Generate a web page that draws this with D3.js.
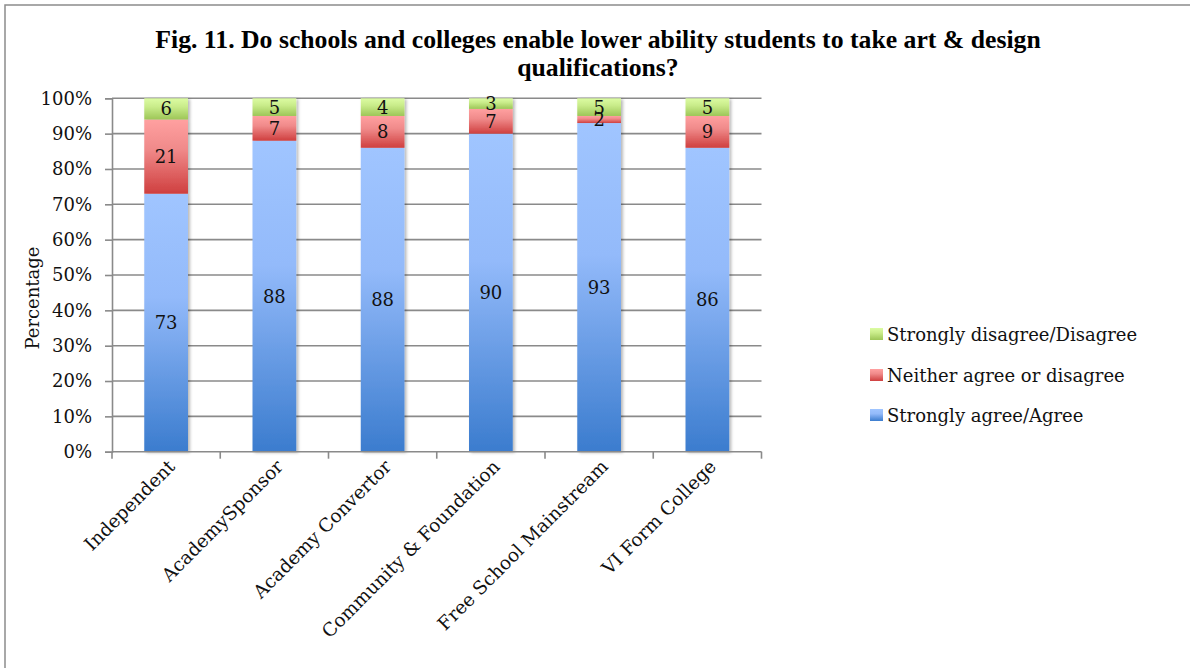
<!DOCTYPE html>
<html><head><meta charset="utf-8">
<script src="https://cdn.jsdelivr.net/npm/d3@7"></script>
<style>html,body{margin:0;padding:0;background:#fff;} svg{display:block;}</style>
</head><body>
<svg id="chart" width="1190" height="668"></svg>
<script>
// ---------- data ----------
const categories = ["Independent", "AcademySponsor", "Academy Convertor", "Community & Foundation", "Free School Mainstream", "VI Form College"];
const seriesNames = ["Strongly agree/Agree", "Neither agree or disagree", "Strongly disagree/Disagree"];
const agree    = [73, 88, 86, 90, 93, 86];
const neither  = [21, 7, 9, 7, 2, 9];
const disagree = [6, 5, 5, 3, 5, 5];
const agreeLabels    = ["73", "88", "88", "90", "93", "86"];
const neitherLabels  = ["21", "7", "8", "7", "2", "9"];
const disagreeLabels = ["6", "5", "4", "3", "5", "5"];
const yTicks = [0, 10, 20, 30, 40, 50, 60, 70, 80, 90, 100];
const titleLines = ["Fig. 11. Do schools and colleges enable lower ability students to take art & design", "qualifications?"];
const yTitle = "Percentage";

// ---------- setup ----------
const FONT = "'DejaVu Serif', 'Liberation Serif', serif";
const TFONT = "'Liberation Serif', 'DejaVu Serif', serif";
const svg = d3.select("#chart");
const W = 1190, H = 668;
svg.append("rect").attr("width", W).attr("height", H).attr("fill", "#fff");
svg.append("rect").attr("x", 5).attr("y", 5).attr("width", 1300).attr("height", 800)
  .attr("fill", "none").attr("stroke", "#8c8c8c").attr("stroke-width", 1.5);

const plot = {left: 112, right: 761.5, top: 98.3, bottom: 451.7};
const x = d3.scaleBand().domain(categories).range([plot.left, plot.right])
  .paddingInner(0.596).paddingOuter(0.298);
const y = d3.scaleLinear().domain([0, 100]).range([plot.bottom, plot.top]);

const colors = {
  agree:    ["#a0c5ff", "#93bafa", "#3b7cce"],
  neither:  ["#ffa0a0", "#f08a8a", "#cf3f3f"],
  disagree: ["#dcfca3", "#c9ec8a", "#9dc657"]
};
const defs = svg.append("defs");
Object.entries(colors).forEach(([k, c]) => {
  const g = defs.append("linearGradient").attr("id", "g-" + k)
    .attr("x1", 0).attr("y1", 0).attr("x2", 0).attr("y2", 1);
  g.append("stop").attr("offset", "0%").attr("stop-color", c[0]);
  g.append("stop").attr("offset", "40%").attr("stop-color", c[1]);
  g.append("stop").attr("offset", "100%").attr("stop-color", c[2]);
});
const f = defs.append("filter").attr("id", "shadow").attr("x", "-20%").attr("y", "-5%").attr("width", "150%").attr("height", "110%");
f.append("feDropShadow").attr("dx", 2).attr("dy", 1).attr("stdDeviation", 1.6)
  .attr("flood-color", "#000").attr("flood-opacity", 0.28);

// ---------- title ----------
const title = svg.append("text").attr("font-family", TFONT).attr("font-weight", "bold")
  .attr("font-size", 20).attr("text-anchor", "middle").attr("fill", "#000");
title.selectAll("tspan").data(titleLines).join("tspan")
  .attr("x", 598).attr("y", (d, i) => 48 + i * 28).text(d => d);
const w0 = title.select("tspan").node().getComputedTextLength();
title.attr("font-size", 20 * 886 / w0);

// ---------- gridlines ----------
svg.append("g").selectAll("line").data(yTicks.filter(d => d > 0)).join("line")
  .attr("x1", plot.left).attr("x2", plot.right)
  .attr("y1", d => y(d)).attr("y2", d => y(d))
  .attr("stroke", "#8a8a8a").attr("stroke-width", 1.6);

// ---------- y axis ----------
const yAxis = svg.append("g").attr("transform", `translate(${plot.left},0)`)
  .call(d3.axisLeft(y).tickValues(yTicks).tickFormat(d => d + "%").tickSize(7).tickPadding(13));
yAxis.select(".domain").attr("stroke", "#8a8a8a").attr("stroke-width", 1.6);
yAxis.selectAll(".tick line").attr("stroke", "#8a8a8a").attr("stroke-width", 1.6);
yAxis.selectAll(".tick text").attr("font-family", FONT).attr("font-size", 18).attr("fill", "#111");

svg.append("text").attr("transform", `translate(32,298) rotate(-90)`)
  .attr("text-anchor", "middle").attr("dominant-baseline", "central")
  .attr("font-family", FONT).attr("font-size", 18).attr("fill", "#111").text(yTitle);

// ---------- bars ----------
const rows = categories.map((c, i) => ({cat: c, agree: agree[i], neither: neither[i], disagree: disagree[i], i}));
const keys = ["agree", "neither", "disagree"];
const labelArrays = {agree: agreeLabels, neither: neitherLabels, disagree: disagreeLabels};
const stacked = d3.stack().keys(keys)(rows);

const barsLayer = svg.append("g").attr("filter", "url(#shadow)");
stacked.forEach(layer => {
  barsLayer.append("g").selectAll("rect").data(layer).join("rect")
    .attr("x", d => x(d.data.cat)).attr("width", x.bandwidth())
    .attr("y", d => y(d[1])).attr("height", d => y(d[0]) - y(d[1]))
    .attr("fill", `url(#g-${layer.key})`);
});

// ---------- x axis ----------
const xAxisG = svg.append("g");
xAxisG.append("line").attr("x1", plot.left).attr("x2", plot.right)
  .attr("y1", plot.bottom).attr("y2", plot.bottom).attr("stroke", "#8a8a8a").attr("stroke-width", 1.6);
const bounds = d3.range(categories.length + 1).map(i => plot.left + i * x.step());
xAxisG.selectAll("line.tk").data(bounds).join("line").attr("class", "tk")
  .attr("x1", d => d).attr("x2", d => d).attr("y1", plot.bottom).attr("y2", plot.bottom + 7)
  .attr("stroke", "#8a8a8a").attr("stroke-width", 1.6);
xAxisG.selectAll("text").data(categories).join("text")
  .attr("transform", d => `translate(${x(d) + x.bandwidth() / 2 + 10},${plot.bottom + 16}) rotate(-45)`)
  .attr("text-anchor", "end").attr("font-family", FONT).attr("font-size", 18.5).attr("fill", "#111")
  .text(d => d);

// ---------- data labels ----------
const lbl = svg.append("g").attr("font-family", FONT).attr("font-size", 18).attr("fill", "#111")
  .attr("text-anchor", "middle");
stacked.forEach(layer => {
  lbl.append("g").selectAll("text").data(layer).join("text")
    .attr("x", d => x(d.data.cat) + x.bandwidth() / 2)
    .attr("y", d => (y(d[0]) + y(d[1])) / 2)
    .attr("dominant-baseline", "central")
    .text(d => labelArrays[layer.key][d.data.i]);
});

// ---------- legend ----------
const legendItems = [
  {key: "disagree", name: seriesNames[2]},
  {key: "neither", name: seriesNames[1]},
  {key: "agree", name: seriesNames[0]}
];
const leg = svg.append("g");
const legY = [334, 375, 415];
legendItems.forEach((it, i) => {
  leg.append("rect").attr("x", 870).attr("y", legY[i] - 6).attr("width", 13).attr("height", 12)
    .attr("fill", `url(#g-${it.key})`);
  leg.append("text").attr("x", 887).attr("y", legY[i]).attr("dominant-baseline", "central")
    .attr("font-family", FONT).attr("font-size", 18).attr("fill", "#111").text(it.name);
});
</script>
</body></html>
